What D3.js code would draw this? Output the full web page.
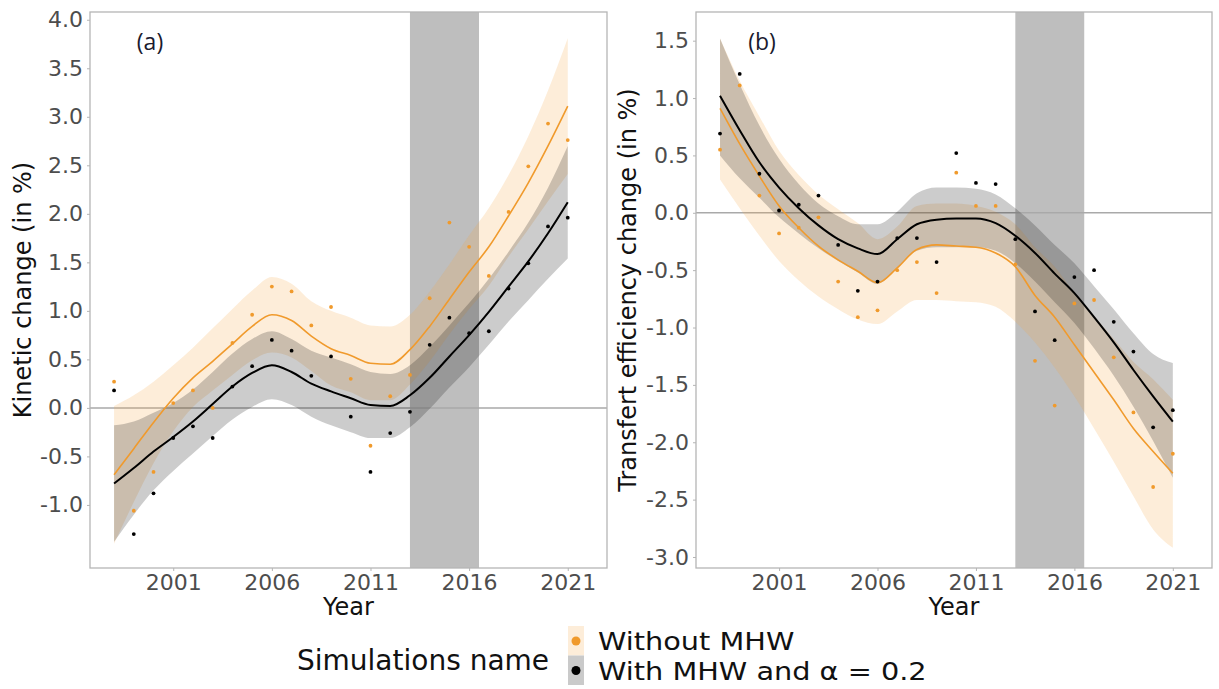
<!DOCTYPE html>
<html>
<head>
<meta charset="utf-8">
<script src="https://cdn.jsdelivr.net/npm/d3@7"></script>
<style>
  body { margin: 0; background: #fff; }
  svg { display: block; font-family: "DejaVu Sans", sans-serif; }
</style>
</head>
<body>
<div id="chart"></div>
<script>
// Years shared by both panels
const years = d3.range(1998, 2022);

// Panel (a) : kinetic change (in %)
const kinWithoutPts = [0.27, -1.06, -0.66, 0.05, 0.18, 0.00, 0.67, 0.96, 1.25, 1.20, 0.85, 1.04, 0.30, -0.39, 0.12, 0.34, 1.13, 1.91, 1.66, 1.36, 2.02, 2.49, 2.93, 2.76];
const kinWithPts = [0.18, -1.30, -0.88, -0.31, -0.19, -0.31, 0.22, 0.43, 0.70, 0.59, 0.33, 0.53, -0.09, -0.66, -0.26, -0.04, 0.65, 0.93, 0.77, 0.79, 1.23, 1.49, 1.87, 1.96];
const kinWithoutFit = [-0.69, -0.42, -0.15, 0.10, 0.31, 0.48, 0.66, 0.84, 0.96, 0.90, 0.74, 0.61, 0.54, 0.46, 0.45, 0.60, 0.84, 1.12, 1.40, 1.66, 1.98, 2.32, 2.70, 3.11];
const kinWithoutLow = [-1.40, -0.97, -0.57, -0.24, 0.01, 0.18, 0.34, 0.49, 0.57, 0.52, 0.38, 0.23, 0.16, 0.08, 0.08, 0.24, 0.48, 0.76, 1.02, 1.26, 1.56, 1.84, 2.13, 2.41];
const kinWithoutHigh = [0.02, 0.13, 0.27, 0.44, 0.62, 0.82, 1.02, 1.21, 1.35, 1.28, 1.10, 1.00, 0.93, 0.85, 0.84, 0.96, 1.20, 1.48, 1.78, 2.06, 2.40, 2.80, 3.27, 3.81];
const kinWithFit = [-0.78, -0.62, -0.45, -0.30, -0.14, 0.04, 0.22, 0.36, 0.44, 0.37, 0.25, 0.17, 0.10, 0.03, 0.02, 0.13, 0.31, 0.53, 0.75, 0.99, 1.25, 1.51, 1.80, 2.12];
const kinWithLow = [-1.38, -1.10, -0.85, -0.65, -0.47, -0.29, -0.12, 0.01, 0.09, 0.03, -0.09, -0.18, -0.25, -0.31, -0.31, -0.20, -0.01, 0.21, 0.42, 0.65, 0.89, 1.11, 1.33, 1.54];
const kinWithHigh = [-0.18, -0.14, -0.05, 0.05, 0.19, 0.37, 0.56, 0.71, 0.79, 0.71, 0.59, 0.52, 0.45, 0.37, 0.35, 0.44, 0.63, 0.85, 1.08, 1.33, 1.61, 1.91, 2.27, 2.70];

// Panel (b) : transfert efficiency change (in %)
const teWithoutPts = [0.55, 1.11, 0.15, -0.18, -0.13, -0.04, -0.60, -0.91, -0.85, -0.50, -0.43, -0.70, 0.35, 0.06, 0.06, -0.45, -1.29, -1.68, -0.79, -0.76, -1.26, -1.74, -2.39, -2.10];
const teWithPts = [0.69, 1.21, 0.34, 0.02, 0.07, 0.15, -0.28, -0.68, -0.60, -0.22, -0.22, -0.43, 0.52, 0.26, 0.25, -0.23, -0.86, -1.11, -0.56, -0.50, -0.95, -1.21, -1.87, -1.72];
const teWithoutFit = [0.91, 0.60, 0.32, 0.06, -0.13, -0.29, -0.41, -0.51, -0.61, -0.48, -0.32, -0.28, -0.29, -0.30, -0.35, -0.47, -0.72, -0.91, -1.15, -1.39, -1.63, -1.88, -2.08, -2.27];
const teWithoutLow = [0.29, 0.04, -0.20, -0.42, -0.59, -0.73, -0.84, -0.93, -0.97, -0.86, -0.76, -0.76, -0.77, -0.78, -0.82, -0.95, -1.13, -1.35, -1.60, -1.88, -2.17, -2.47, -2.76, -2.92];
const teWithoutHigh = [1.52, 1.15, 0.84, 0.54, 0.33, 0.16, 0.03, -0.09, -0.23, -0.12, 0.06, 0.08, 0.08, 0.06, 0.01, -0.10, -0.30, -0.47, -0.70, -0.90, -1.10, -1.30, -1.45, -1.63];
const teWithFit = [1.02, 0.72, 0.44, 0.22, 0.04, -0.11, -0.23, -0.31, -0.36, -0.23, -0.10, -0.06, -0.05, -0.05, -0.09, -0.20, -0.35, -0.53, -0.70, -0.91, -1.13, -1.37, -1.60, -1.82];
const teWithLow = [0.50, 0.30, 0.13, -0.04, -0.18, -0.31, -0.42, -0.52, -0.62, -0.48, -0.33, -0.30, -0.30, -0.30, -0.33, -0.44, -0.60, -0.78, -0.96, -1.18, -1.42, -1.69, -1.99, -2.31];
const teWithHigh = [1.52, 1.12, 0.76, 0.47, 0.25, 0.08, -0.03, -0.10, -0.10, 0.01, 0.17, 0.22, 0.22, 0.21, 0.16, 0.04, -0.11, -0.28, -0.44, -0.64, -0.84, -1.05, -1.23, -1.31];

// Tick values and the shaded MHW period
const xTicks = [2001, 2006, 2011, 2016, 2021];
const kinTicks = [-1.0, -0.5, 0.0, 0.5, 1.0, 1.5, 2.0, 2.5, 3.0, 3.5, 4.0];
const teTicks = [-3.0, -2.5, -2.0, -1.5, -1.0, -0.5, 0.0, 0.5, 1.0, 1.5];
const mhwPeriod = [2013.0, 2016.5];

const legendNames = ["Without MHW", "With MHW and \u03b1 = 0.2"];

const ORANGE = "#f09a2c";
const width = 1219;
const height = 689;

const svg = d3.select("#chart").append("svg")
  .attr("width", width)
  .attr("height", height);

function drawPanel(opt) {
  const x = d3.scaleLinear().domain([1996.78, 2022.99]).range([opt.left, opt.right]);
  const y = d3.scaleLinear().domain(opt.yDomain).range([568, 12]);
  const g = svg.append("g");

  // shaded period
  g.append("rect")
    .attr("x", x(mhwPeriod[0]))
    .attr("y", 12)
    .attr("width", x(mhwPeriod[1]) - x(mhwPeriod[0]))
    .attr("height", 556)
    .attr("fill", "#bebebe");

  // zero line
  g.append("line")
    .attr("x1", opt.left).attr("x2", opt.right)
    .attr("y1", y(0)).attr("y2", y(0))
    .attr("stroke", "#a9a9a9").attr("stroke-width", 1.5);

  const area = d3.area()
    .x((d) => x(d.year))
    .y0((d) => y(d.low))
    .y1((d) => y(d.high))
    .curve(d3.curveMonotoneX);
  const line = d3.line()
    .x((d) => x(d.year))
    .y((d) => y(d.fit))
    .curve(d3.curveMonotoneX);

  opt.series.forEach((s) => {
    const rows = years.map((yr, i) => ({ year: yr, fit: s.fit[i], low: s.low[i], high: s.high[i], pt: s.pts[i] }));
    s.rows = rows;
    g.append("path")
      .datum(rows)
      .attr("d", area)
      .attr("fill", s.band)
      .attr("fill-opacity", s.bandOpacity);
  });

  opt.series.forEach((s) => {
    g.selectAll(null)
      .data(s.rows)
      .join("circle")
      .attr("cx", (d) => x(d.year))
      .attr("cy", (d) => y(d.pt))
      .attr("r", 1.9)
      .attr("fill", s.color);
    g.append("path")
      .datum(s.rows)
      .attr("d", line)
      .attr("fill", "none")
      .attr("stroke", s.color)
      .attr("stroke-width", s.lineWidth);
  });

  // panel border
  g.append("rect")
    .attr("x", opt.left).attr("y", 12)
    .attr("width", opt.right - opt.left).attr("height", 556)
    .attr("fill", "none")
    .attr("stroke", "#b5b5b5")
    .attr("stroke-width", 1.3);

  // axes
  const yAxis = g.append("g")
    .attr("transform", `translate(${opt.left},0)`)
    .call(d3.axisLeft(y).tickValues(opt.yTicks).tickSize(3).tickPadding(4).tickFormat((d) => d.toFixed(1)));
  const xAxis = g.append("g")
    .attr("transform", "translate(0,568)")
    .call(d3.axisBottom(x).tickValues(xTicks).tickSize(3).tickPadding(3).tickFormat(d3.format("d")));
  [yAxis, xAxis].forEach((ax) => {
    ax.select(".domain").remove();
    ax.selectAll(".tick line").attr("stroke", "#b5b5b5");
    ax.selectAll(".tick text")
      .attr("fill", "#4d4d4d")
      .style("font-size", "22px")
      .style("font-family", "DejaVu Sans");
  });

  // titles
  g.append("text")
    .attr("transform", `translate(${opt.titleX},290) rotate(-90)`)
    .attr("text-anchor", "middle")
    .style("font-size", "24px")
    .attr("fill", "#111")
    .text(opt.yTitle);
  g.append("text")
    .attr("x", (opt.left + opt.right) / 2)
    .attr("y", 615)
    .attr("text-anchor", "middle")
    .style("font-size", "24px")
    .attr("fill", "#111")
    .text("Year");
  g.append("text")
    .attr("x", opt.tagX)
    .attr("y", 50)
    .attr("text-anchor", "middle")
    .style("font-family", "Open Sans")
    .style("font-size", "23px")
    .attr("fill", "#1a1a2e")
    .text(opt.tag);
}

drawPanel({
  left: 90, right: 607,
  yDomain: [-1.65, 4.08],
  yTicks: kinTicks,
  yTitle: "Kinetic change (in %)",
  titleX: 31,
  tag: "(a)", tagX: 150,
  series: [
    { pts: kinWithoutPts, fit: kinWithoutFit, low: kinWithoutLow, high: kinWithoutHigh, color: ORANGE, band: "#f5a742", bandOpacity: 0.2, lineWidth: 1.6 },
    { pts: kinWithPts, fit: kinWithFit, low: kinWithLow, high: kinWithHigh, color: "#000", band: "#000", bandOpacity: 0.2, lineWidth: 2 },
  ],
});

drawPanel({
  left: 696, right: 1212,
  yDomain: [-3.096, 1.75],
  yTicks: teTicks,
  yTitle: "Transfert efficiency change (in %)",
  titleX: 636,
  tag: "(b)", tagX: 762,
  series: [
    { pts: teWithoutPts, fit: teWithoutFit, low: teWithoutLow, high: teWithoutHigh, color: ORANGE, band: "#f5a742", bandOpacity: 0.2, lineWidth: 1.6 },
    { pts: teWithPts, fit: teWithFit, low: teWithLow, high: teWithHigh, color: "#000", band: "#000", bandOpacity: 0.2, lineWidth: 2 },
  ],
});

// legend
const legend = svg.append("g");
legend.append("text")
  .attr("x", 297).attr("y", 670)
  .style("font-size", "28px")
  .attr("fill", "#111")
  .text("Simulations name");
const keyColors = [ORANGE, "#000"];
const keyBands = ["#fdedd9", "#cacaca"];
legendNames.forEach((name, i) => {
  const ky = 626 + i * 29.5;
  legend.append("rect")
    .attr("x", 568).attr("y", ky)
    .attr("width", 16).attr("height", 29.5)
    .attr("fill", keyBands[i]);
  legend.append("circle")
    .attr("cx", 576).attr("cy", ky + 15)
    .attr("r", 4.5)
    .attr("fill", keyColors[i]);
  legend.append("text")
    .attr("transform", `translate(598,${ky + 24}) scale(1.15,1)`)
    .style("font-size", "25px")
    .attr("fill", "#111")
    .text(name);
});
</script>
</body>
</html>
